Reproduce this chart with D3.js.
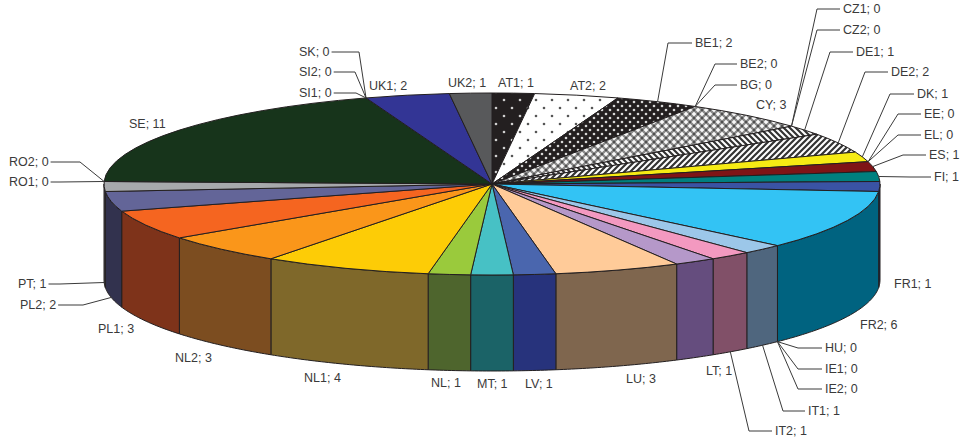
<!DOCTYPE html>
<html>
<head>
<meta charset="utf-8">
<script src="https://cdn.jsdelivr.net/npm/d3@7"></script>
<style>
    html, body { margin: 0; padding: 0; background: #fff; }
    text { font-family: "Liberation Sans", Arial, sans-serif; font-size: 12.5px; fill: #3a3a3a; }
</style>
</head>
<body>
<div id="chart"></div>
<script>
// Chart values, clockwise from 12 o'clock
var names = ["AT1", "AT2", "BE1", "BE2", "BG", "CY", "CZ1", "CZ2", "DE1", "DE2", "DK", "EE", "EL", "ES", "FI", "FR1", "FR2", "HU", "IE1", "IE2",
    "IT1", "IT2", "LT", "LU", "LV", "MT", "NL", "NL1", "NL2", "PL1", "PL2", "PT", "RO1", "RO2", "SE", "SI1", "SI2", "SK", "UK1", "UK2"];
var values = [1, 2, 2, 0, 0, 3, 0, 0, 1, 2, 1, 0, 0, 1, 1, 1, 6, 0, 0, 0,
    1, 1, 1, 3, 1, 1, 1, 4, 3, 3, 2, 1, 0, 0, 11, 0, 0, 0, 2, 1];

// Top and wall colours of the slices that have a size
var topColors = {
    AT1: "url(#darkSparse)", AT2: "url(#lightSparse)", BE1: "url(#darkDense)", CY: "url(#checker)", DE1: "url(#stripeBack)", DE2: "url(#stripeFwd)",
    DK: "#f6eb14", ES: "#7f1416", FI: "#00807f", FR1: "#3a53a4", FR2: "#33c3f4", IT1: "#9cc7e9", IT2: "#f399c0", LT: "#b598c9", LU: "#ffcb99",
    LV: "#4a66ae", MT: "#47c1c5", NL: "#9aca3c", NL1: "#fdcc06", NL2: "#fa961a", PL1: "#f56520", PL2: "#636598", PT: "#a7a9ac", SE: "#17341b",
    UK1: "#333595", UK2: "#58595b"
};
var wallColors = {
    FR1: "#1c2a52", FR2: "#006380", IT1: "#4f667e", IT2: "#815068", LT: "#654d7e", LU: "#7f664e", LV: "#27337c", MT: "#1b6367", NL: "#4e652d",
    NL1: "#7f682a", NL2: "#7c4d20", PL1: "#7e331a", PL2: "#32324e", PT: "#4a4b4d"
};

// Label layout: text position, optional elbow, and where the leader meets the pie
var labelLayout = {
    AT1: { x: 498, y: 83 }, AT2: { x: 570, y: 86 }, BE1: { x: 695, y: 43, elbow: 668 }, BE2: { x: 740, y: 64, elbow: 715, at: "end" }, BG: { x: 740, y: 85, elbow: 715, at: "end" },
    CY: { x: 756, y: 105 }, CZ1: { x: 843, y: 9, elbow: 817, at: "end" }, CZ2: { x: 843, y: 30, elbow: 817, at: "end" }, DE1: { x: 856, y: 52, elbow: 830 },
    DE2: { x: 891, y: 72, elbow: 865 }, DK: { x: 917, y: 94, elbow: 890 }, EE: { x: 924, y: 114, elbow: 898, at: "end" }, EL: { x: 924, y: 135, elbow: 898, at: "end" },
    ES: { x: 929, y: 155, elbow: 903 }, FI: { x: 934, y: 177, elbow: 910 }, FR1: { x: 894, y: 284 }, FR2: { x: 860, y: 325 },
    HU: { x: 825, y: 348, elbow: 798, at: "end", wall: true }, IE1: { x: 825, y: 369, elbow: 798, at: "end", wall: true }, IE2: { x: 825, y: 389, elbow: 798, at: "end", wall: true },
    IT1: { x: 808, y: 411, elbow: 783, wall: true }, IT2: { x: 775, y: 431, elbow: 749, wall: true }, LT: { x: 706, y: 371 }, LU: { x: 626, y: 379 }, LV: { x: 525, y: 384 },
    MT: { x: 477, y: 384 }, NL: { x: 431, y: 383 }, NL1: { x: 304, y: 378 }, NL2: { x: 175, y: 358 }, PL1: { x: 98, y: 329 },
    PL2: { x: 20, y: 305, elbow: 83, wall: true }, PT: { x: 18, y: 284, elbow: 60, wall: true }, RO1: { x: 9, y: 182, elbow: 60, at: "end" }, RO2: { x: 9, y: 162, elbow: 80, at: "end" },
    SE: { x: 129, y: 124 }, SI1: { x: 299, y: 93, elbow: 356, at: "end" }, SI2: { x: 299, y: 72, elbow: 355, at: "end" }, SK: { x: 299, y: 52, elbow: 359, at: "end" },
    UK1: { x: 369, y: 86 }, UK2: { x: 448, y: 83 }
};

var width = 960, height = 443;
var cx = 492, cy = 184, rx = 388, ry = 91, depth = 96;

var svg = d3.select("#chart").append("svg")
    .attr("width", width)
    .attr("height", height)
    .style("display", "block");

// Fill patterns for the first slices. The pie group squashes y, so the patterns undo that
var defs = svg.append("defs");
function addPattern(id, w, h, bg) {
    var p = defs.append("pattern")
        .attr("id", id)
        .attr("patternUnits", "userSpaceOnUse")
        .attr("width", w)
        .attr("height", h)
        .attr("patternTransform", "scale(1," + (rx / ry) + ")");
    p.append("rect").attr("width", w).attr("height", h).attr("fill", bg);
    return p;
}
function addDots(p, w, h, r, color) {
    [[w / 4, h / 4], [3 * w / 4, 3 * h / 4]].forEach(function (c) {
        p.append("circle").attr("cx", c[0]).attr("cy", c[1]).attr("r", r).attr("fill", color);
    });
}
addDots(addPattern("darkSparse", 16, 16, "#231f20"), 16, 16, 1.3, "#cfcfcf");
addDots(addPattern("lightSparse", 16, 16, "#ffffff"), 16, 16, 1.3, "#555555");
addDots(addPattern("darkDense", 8, 8, "#231f20"), 8, 8, 1.3, "#d8d8d8");

var checker = addPattern("checker", 8, 8, "#8c8c8c");
[[2, 2], [6, 6]].forEach(function (c) {
    checker.append("path").attr("d", "M" + (c[0] - 2) + "," + c[1] + "h4M" + c[0] + "," + (c[1] - 2) + "v4")
        .attr("stroke", "#fff").attr("stroke-width", 1.5);
});
[[6, 2], [2, 6]].forEach(function (c) {
    checker.append("circle").attr("cx", c[0]).attr("cy", c[1]).attr("r", 1.2).attr("fill", "#4d4d4d");
});
addPattern("stripeFwd", 6, 6, "#ffffff").append("path").attr("d", "M-1.5,1.5l3,-3M0,6l6,-6M4.5,7.5l3,-3")
    .attr("stroke", "#333").attr("stroke-width", 2.2);
addPattern("stripeBack", 6, 6, "#ffffff").append("path").attr("d", "M-1.5,4.5l3,3M0,0l6,6M4.5,-1.5l3,3")
    .attr("stroke", "#333").attr("stroke-width", 2.2);

// Slices run clockwise from the top
var pie = d3.pie().sort(null).value(function (d) { return d.value; }).startAngle(0).endAngle(2 * Math.PI);
var slices = pie(names.map(function (n, i) { return { name: n, value: values[i] }; }));

function pt(a, z) {
    return [cx + rx * Math.sin(a), cy - ry * Math.cos(a) + (z || 0)];
}

// Walls: only the front half of the rim shows
var line = d3.line();
function wallPath(d) {
    var a0 = Math.max(d.startAngle, Math.PI / 2);
    var a1 = Math.min(d.endAngle, 3 * Math.PI / 2);
    var steps = d3.range(a0, a1, 0.01).concat([a1]);
    var pts = steps.map(function (a) { return pt(a); });
    var back = steps.slice().reverse().map(function (a) { return pt(a, depth); });
    return line(pts.concat(back)) + "Z";
}
svg.append("g").selectAll("path")
    .data(slices.filter(function (d) { return d.value > 0 && d.endAngle > Math.PI / 2 && d.startAngle < 3 * Math.PI / 2; }))
    .enter()
    .append("path")
    .attr("d", wallPath)
    .attr("fill", function (d) { return wallColors[d.data.name]; })
    .attr("stroke", "#231f20")
    .attr("stroke-width", 1)
    .attr("stroke-linejoin", "round");

// Top of the pie
var arc = d3.arc().innerRadius(0).outerRadius(rx);
svg.append("g")
    .attr("transform", "translate(" + cx + "," + cy + ") scale(1," + (ry / rx) + ")")
    .selectAll("path")
    .data(slices.filter(function (d) { return d.value > 0; }))
    .enter()
    .append("path")
    .attr("d", arc)
    .attr("fill", function (d) { return topColors[d.data.name]; })
    .attr("stroke", "#231f20")
    .attr("stroke-width", 1)
    .attr("vector-effect", "non-scaling-stroke")
    .attr("stroke-linejoin", "round");

var leaders = svg.append("g");

var labels = svg.append("g").selectAll("text")
    .data(slices)
    .enter()
    .append("text")
    .attr("x", function (d) { return labelLayout[d.data.name].x; })
    .attr("y", function (d) { return labelLayout[d.data.name].y; })
    .attr("dy", "0.35em")
    .text(function (d) { return d.data.name + "; " + d.data.value; });

// Text lengths are measured so the leaders stop just short of the labels
var textLengths = {};
labels.each(function (d) { textLengths[d.data.name] = this.getComputedTextLength(); });

// Leaders go from the rim (or the wall foot) to the elbow, then level to the text
function leaderPath(d) {
    var l = labelLayout[d.data.name];
    var a = l.at === "end" ? d.endAngle : (d.startAngle + d.endAngle) / 2;
    var p = pt(a, l.wall ? depth : 0);
    var textEdge = l.x < cx ? l.x + textLengths[d.data.name] + 2 : l.x - 3;
    return line([p, [l.elbow, l.y], [textEdge, l.y]]);
}
leaders.selectAll("path")
    .data(slices.filter(function (d) { return labelLayout[d.data.name].elbow !== undefined; }))
    .enter()
    .append("path")
    .attr("d", leaderPath)
    .attr("fill", "none")
    .attr("stroke", "#3a3a3a")
    .attr("stroke-width", 1);
</script>
</body>
</html>
